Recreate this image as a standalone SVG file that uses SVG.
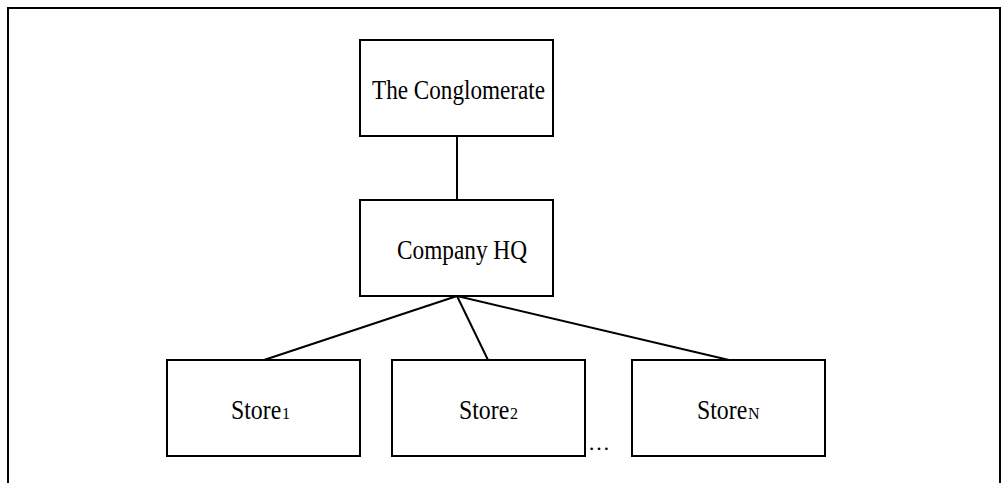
<svg xmlns="http://www.w3.org/2000/svg" width="1002" height="483" viewBox="0 0 1002 483">
  <style>
    .box { fill: #fff; stroke: #000; stroke-width: 2; }
    .frame { fill: none; stroke: #000; stroke-width: 2; }
    .link { fill: none; stroke: #000; stroke-width: 2; }
    .label { font-family: "Liberation Serif", "Times New Roman", serif; font-size: 28px; fill: #000; }
    .sub { font-family: "Liberation Serif", "Times New Roman", serif; font-size: 16px; fill: #000; }
  </style>
  <rect width="1002" height="483" fill="#fff"/>
  <!-- outer frame, open at the bottom edge -->
  <path class="frame" d="M8,490 V8 H1000 V490"/>

  <g id="connectors">
    <line class="link" x1="457" y1="136" x2="457" y2="200"/>
    <line class="link" x1="457" y1="296" x2="264" y2="360"/>
    <line class="link" x1="457" y1="296" x2="488" y2="360"/>
    <line class="link" x1="457" y1="296" x2="729" y2="360"/>
  </g>

  <g id="conglomerate">
    <rect class="box" x="360" y="40" width="193" height="96"/>
    <text class="label" x="372" y="99" textLength="173" lengthAdjust="spacingAndGlyphs">The Conglomerate</text>
  </g>

  <g id="company-hq">
    <rect class="box" x="360" y="200" width="193" height="96"/>
    <text class="label" x="397" y="259" textLength="130" lengthAdjust="spacingAndGlyphs">Company HQ</text>
  </g>

  <!-- store labels: narrowed name plus a baseline-aligned small index -->
  <g id="store-1">
    <rect class="box" x="167" y="360" width="193" height="96"/>
    <text class="label" transform="translate(231 419) scale(0.85 1)">Store</text>
    <text class="sub" x="282" y="419">1</text>
  </g>

  <g id="store-2">
    <rect class="box" x="392" y="360" width="193" height="96"/>
    <text class="label" transform="translate(459 419) scale(0.85 1)">Store</text>
    <text class="sub" x="510" y="419">2</text>
  </g>

  <g id="ellipsis">
    <text class="label" x="588" y="450" style="font-size:22px">…</text>
  </g>

  <g id="store-n">
    <rect class="box" x="632" y="360" width="193" height="96"/>
    <text class="label" transform="translate(697 419) scale(0.85 1)">Store</text>
    <text class="sub" x="748" y="419">N</text>
  </g>
</svg>
